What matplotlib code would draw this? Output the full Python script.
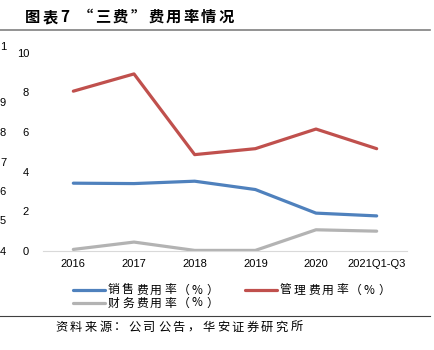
import matplotlib
matplotlib.use("Agg")
import matplotlib.pyplot as plt

plt.rcParams['font.family'] = ['Liberation Sans', 'Noto Sans CJK SC', 'DejaVu Sans']

years = ["2016", "2017", "2018", "2019", "2020", "2021Q1-Q3"]
sales_rate = [3.42, 3.40, 3.52, 3.10, 1.91, 1.77]
admin_rate = [8.06, 8.93, 4.86, 5.16, 6.15, 5.16]
finance_rate = [0.08, 0.45, 0.03, 0.03, 1.07, 1.00]
yticks = [0, 2, 4, 6, 8, 10]
ghost_labels = ["1", "9", "8", "7", "6", "5", "4"]
ghost_y = [47, 103, 133, 163, 192, 221, 252]
series_names = ["销售费用率（%）", "管理费用率（%）", "财务费用率（%）"]
colors = ["#4F81BD", "#C0504D", "#B3B3B3"]

W, H = 435, 350
fig = plt.figure(figsize=(W / 100, H / 100), dpi=100)
ax = fig.add_axes([43 / W, (H - 251) / H, (407 - 43) / W, (251 - 52.7) / H])


def spaced(s, x0, y, pitch, size, weight="normal"):
    # CJK text set with wide letter spacing, as in the source report
    for i, ch in enumerate(s):
        fig.text((x0 + i * pitch) / W, 1 - y / H, ch, fontsize=size, fontweight=weight,
                 family=["Noto Sans CJK SC", "DejaVu Sans"], ha="left", va="center")


x = range(len(years))
for vals, c in zip([sales_rate, admin_rate, finance_rate], colors):
    ax.plot(x, vals, color=c, lw=2.3, solid_capstyle="round")

ax.set_xlim(-0.5, len(years) - 0.5)
ax.set_ylim(0, 10)
ax.set_yticks(yticks)
ax.set_xticks(list(x))
ax.set_xticklabels(years)
for s in ["top", "right", "left"]:
    ax.spines[s].set_visible(False)
ax.spines["bottom"].set_color("#D9D9D9")
ax.tick_params(length=0, labelsize=8, colors="#000000")
ax.tick_params(axis="y", pad=10)
ax.tick_params(axis="x", pad=6)

# clipped labels of a hidden axis at the far left
for t, yy in zip(ghost_labels, ghost_y):
    fig.text(3 / W, 1 - yy / H, t, fontsize=8, ha="center", va="center")

# title and rules
spaced("图表7“三费”费用率情况", 25, 17, 17.6, 11, "bold")
fig.add_artist(plt.Line2D([0, 430 / W], [1 - 29.5 / H] * 2, color="#808080", lw=1.2))
fig.add_artist(plt.Line2D([0, 430 / W], [1 - 315.5 / H] * 2, color="#404040", lw=0.8))
spaced("资料来源：公司公告，华安证券研究所", 55, 327, 14.7, 8.8)

# legend drawn by hand to keep the wide character spacing
leg_pos = [(73, 290), (245, 290), (73, 303)]
for name, c, (lx, ly) in zip(series_names, colors, leg_pos):
    fig.add_artist(plt.Line2D([lx / W, (lx + 32) / W], [1 - ly / H] * 2, color=c, lw=2.3,
                              solid_capstyle="round"))
    spaced(name, lx + 35, ly, 14, 8.5)

fig.savefig("out.png", dpi=100)
